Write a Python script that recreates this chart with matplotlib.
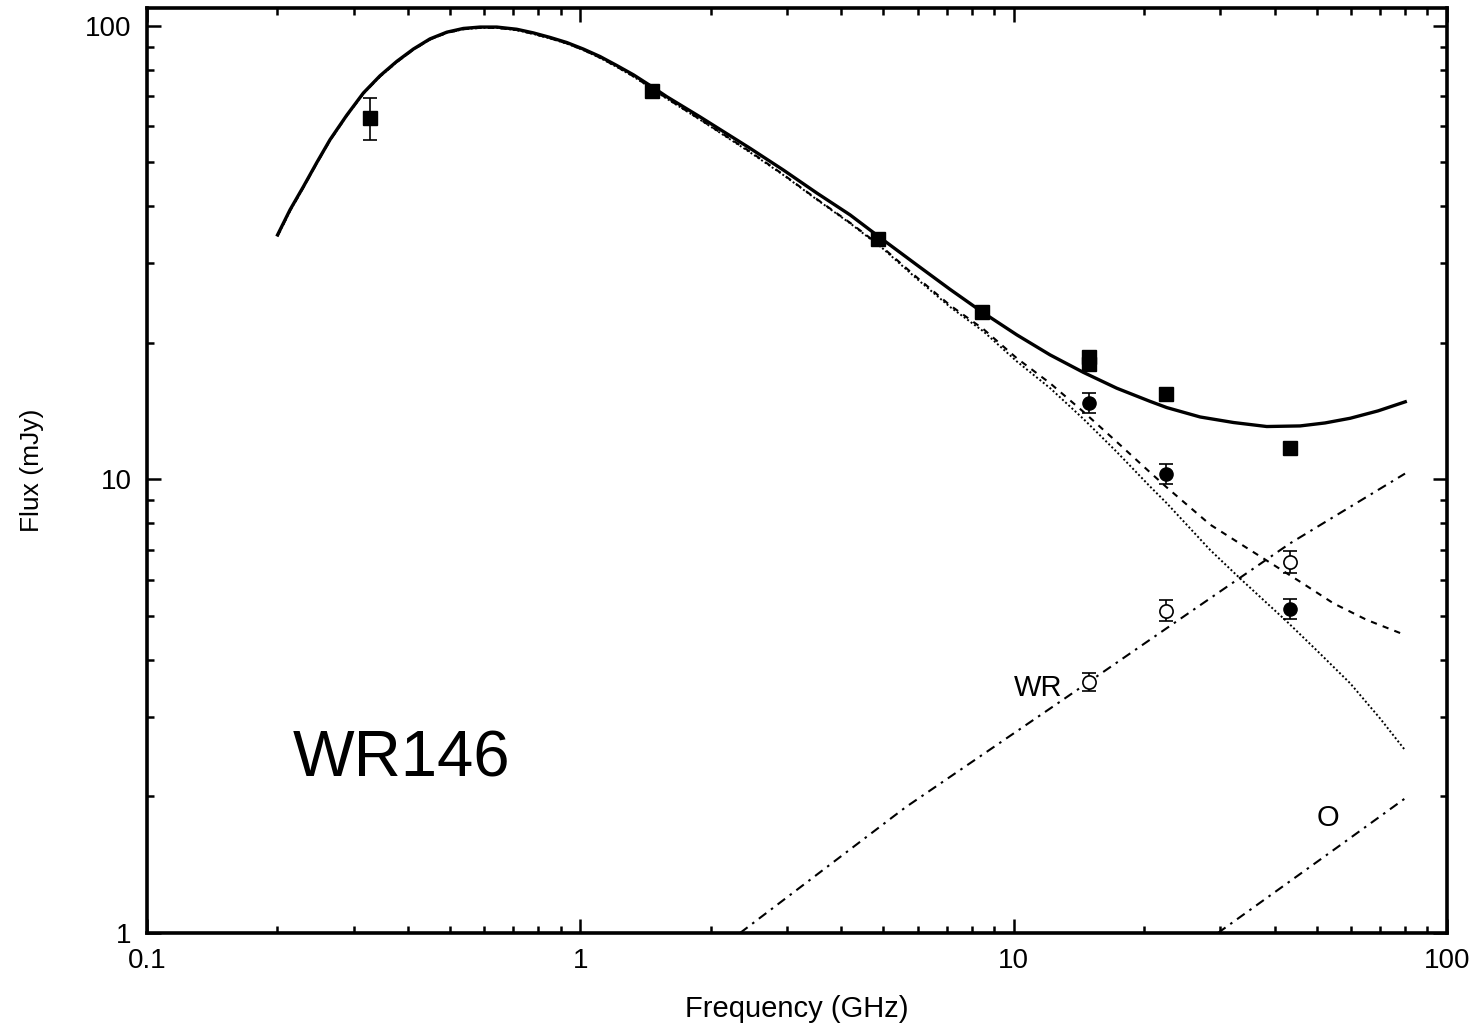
import matplotlib
matplotlib.use("Agg")
import matplotlib.pyplot as plt
from matplotlib.ticker import FuncFormatter, LogLocator

plt.rcParams['font.family'] = ['Liberation Sans', 'DejaVu Sans']

# Observed total flux (filled squares), GHz / mJy
nu_total = [0.327, 1.465, 4.86, 8.44, 14.94, 14.94, 22.5, 43.3]
s_total = [62.7, 71.7, 33.9, 23.4, 18.6, 18.0, 15.4, 11.7]
e_total = [6.8, 0, 0, 0, 0, 0, 0, 0]

# Non-thermal emitting region, filled circles
nu_sc = [14.94, 22.5, 43.3]
s_sc = [14.77, 10.28, 5.19]
e_sc = [0.77, 0.52, 0.27]

# WR star (thermal), open circles
nu_wr = [14.94, 22.5, 43.3]
s_wr = [3.58, 5.14, 6.59]
e_wr = [0.17, 0.27, 0.36]

# Model: total spectrum
nu_mod = [0.2001, 0.2138, 0.2295, 0.2463, 0.2644, 0.2889, 0.3156, 0.3448,
          0.3770, 0.4118, 0.4497, 0.4917, 0.5370, 0.5868, 0.6414, 0.7131,
          0.7791, 0.8514, 0.9302, 1.016, 1.110, 1.213, 1.326, 1.448, 1.583,
          1.889, 2.465, 2.941, 3.513, 4.193, 5.005, 5.975, 7.133, 8.514,
          10.17, 12.13, 14.48, 17.29, 20.65, 22.56, 26.93, 32.14, 38.37,
          45.81, 52.3, 59.77, 69.3, 80.1]
s_mod_total = [34.6, 39.3, 44.2, 49.9, 56.1, 63.5, 71.1, 77.6,
               83.5, 88.9, 93.6, 96.85, 98.7, 99.4, 99.4, 98.3,
               96.5, 94.3, 91.9, 88.9, 85.6, 81.8, 78.0, 73.9, 69.8,
               63.0, 53.7, 48.1, 42.8, 38.3, 33.7, 29.72, 26.24, 23.29,
               20.83, 18.82, 17.22, 15.89, 14.86, 14.4, 13.73, 13.35, 13.08,
               13.12, 13.32, 13.64, 14.16, 14.83]

# Model: non-thermal (synchrotron) component
nu_nt = [0.2001, 0.2138, 0.2295, 0.2463, 0.2644, 0.2889, 0.3156, 0.3448,
         0.3770, 0.4118, 0.4497, 0.4917, 0.5370, 0.5868, 0.6414, 0.7131,
         0.7791, 0.8514, 0.9302, 1.016, 1.110, 1.213, 1.326, 1.448, 1.583,
         1.889, 2.465, 2.941, 3.513, 4.193, 5.005, 5.975, 7.133, 8.514,
         10.17, 12.13, 14.48, 17.29, 20.65, 22.56, 28.4, 33.6, 42.7, 50.4,
         59.8, 70.1, 80.0]
s_nt = [34.4, 39.1, 44.0, 49.7, 55.9, 63.3, 70.9, 77.3,
        83.2, 88.6, 93.3, 96.5, 98.3, 99.0, 99.0, 97.9,
        96.0, 93.8, 91.4, 88.4, 85.0, 81.2, 77.3, 73.2, 69.1,
        62.1, 52.6, 46.9, 41.4, 36.7, 32.2, 27.7, 24.0, 21.2,
        18.2, 15.9, 13.6, 11.5, 9.64, 8.86, 6.99, 6.0, 4.86, 4.17,
        3.55, 2.97, 2.53]

# Model: non-thermal plus O star wind
nu_nto = [0.2001, 0.2138, 0.2295, 0.2463, 0.2644, 0.2889, 0.3156, 0.3448,
          0.3770, 0.4118, 0.4497, 0.4917, 0.5370, 0.5868, 0.6414, 0.7131,
          0.7791, 0.8514, 0.9302, 1.016, 1.110, 1.213, 1.326, 1.448, 1.583,
          1.889, 2.465, 2.941, 3.513, 4.193, 5.005, 5.975, 7.133, 8.514,
          10.17, 12.13, 14.48, 17.29, 20.65, 22.56, 28.4, 35.1, 45.8, 54.7,
          65.3, 80.0]
s_nto = [34.4, 39.1, 44.0, 49.7, 55.9, 63.3, 70.9, 77.3,
         83.2, 88.6, 93.3, 96.5, 98.3, 99.0, 99.0, 97.9,
         96.0, 93.9, 91.5, 88.5, 85.1, 81.3, 77.4, 73.3, 69.2,
         62.2, 52.8, 47.0, 41.5, 36.8, 32.35, 27.9, 24.2, 21.45,
         18.5, 16.3, 14.1, 12.1, 10.36, 9.6, 7.95, 6.99, 5.95, 5.33,
         4.90, 4.54]

# Model: WR and O star thermal winds
nu_wr_mod = [2.337, 5.63, 12.8, 22.56, 43.45, 80.0]
s_wr_mod = [1.0, 1.893, 3.236, 4.70, 7.23, 10.3]
nu_o_mod = [29.6, 56.1, 80.0]
s_o_mod = [1.0, 1.55, 1.98]

fig = plt.figure(figsize=(14.82, 10.25), dpi=100)
ax = fig.add_axes([0.0992, 0.0898, 0.8772, 0.9024])

dashdot = (0, (4.5, 2.8, 1.2, 2.8))
ax.plot(nu_mod, s_mod_total, color='black', lw=2.4, solid_joinstyle='round')
ax.plot(nu_nt, s_nt, color='black', lw=1.4, linestyle=(0, (1, 1.2)))
ax.plot(nu_nto, s_nto, color='black', lw=1.5, linestyle=(0, (3, 3)))
ax.plot(nu_wr_mod, s_wr_mod, color='black', lw=1.5, linestyle=dashdot)
ax.plot(nu_o_mod, s_o_mod, color='black', lw=1.5, linestyle=dashdot)

ax.errorbar(nu_total, s_total, yerr=e_total, fmt='s', color='black', ms=10,
            capsize=5, elinewidth=1.2, capthick=1.2, zorder=5)
ax.errorbar(nu_sc, s_sc, yerr=e_sc, fmt='o', color='black', ms=9.5,
            capsize=5, elinewidth=1.2, capthick=1.2, zorder=5)
ax.errorbar(nu_wr, s_wr, yerr=e_wr, fmt='o', color='black', mfc='white',
            mec='black', mew=1.2, ms=9.5, capsize=5, elinewidth=1.2,
            capthick=1.2, zorder=5)

ax.set_xscale('log')
ax.set_yscale('log')
ax.set_xlim(0.1, 100)
ax.set_ylim(1, 109.5)

fmt = FuncFormatter(lambda v, p: '%g' % v)
ax.xaxis.set_major_formatter(fmt)
ax.yaxis.set_major_formatter(fmt)
ax.xaxis.set_minor_formatter(FuncFormatter(lambda v, p: ''))
ax.yaxis.set_minor_formatter(FuncFormatter(lambda v, p: ''))
ax.xaxis.set_major_locator(LogLocator(base=10, numticks=10))
ax.yaxis.set_major_locator(LogLocator(base=10, numticks=10))
ax.xaxis.set_minor_locator(LogLocator(base=10, subs=range(2, 10), numticks=20))
ax.yaxis.set_minor_locator(LogLocator(base=10, subs=range(2, 10), numticks=20))

ax.tick_params(which='both', direction='in', top=True, right=True, width=1.8,
               labelsize=20)
ax.tick_params(which='major', length=9.8, pad=11)
ax.tick_params(which='minor', length=5)
for sp in ax.spines.values():
    sp.set_linewidth(2.6)

ax.set_xlabel('Frequency (GHz)', fontsize=21, labelpad=15)
ax.set_ylabel('Flux (mJy)', fontsize=19, labelpad=30)

ax.text(11.4, 3.47, 'WR', fontsize=21, ha='center', va='center')
ax.text(53.2, 1.79, 'O', fontsize=21, ha='center', va='center')
ax.text(0.2173, 2.41, 'WR146', fontsize=47, ha='left', va='center')

fig.savefig('out.png', dpi=100)
